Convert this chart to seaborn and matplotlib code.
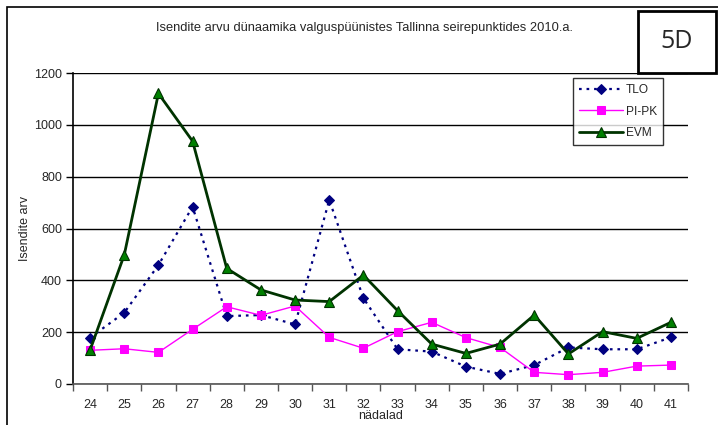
import matplotlib
matplotlib.use("Agg")
import matplotlib.pyplot as plt
import seaborn as sns
import pandas as pd
from matplotlib.patches import Rectangle

weeks = list(range(24, 42))
tlo = [179, 275, 459, 684, 262, 266, 230, 710, 331, 134, 125, 67, 39, 73, 141, 134, 134, 180]
pipk = [130, 136, 122, 211, 298, 265, 301, 180, 138, 202, 238, 179, 141, 45, 36, 45, 69, 73]
evm = [131, 498, 1121, 937, 446, 363, 324, 318, 420, 283, 154, 118, 154, 266, 116, 202, 176, 238]
yticks = [0, 200, 400, 600, 800, 1000, 1200]

title = "Isendite arvu dünaamika valguspüünistes Tallinna seirepunktides 2010.a."
ylabel = "Isendite arv"
xlabel = "nädalad"

sns.set_theme(style="white")
plt.rcParams["font.family"] = ["Liberation Sans", "DejaVu Sans"]

W, H = 718, 425
fig = plt.figure(figsize=(W / 100, H / 100), dpi=100)
fig.patch.set_facecolor("white")
ax = fig.add_axes([73 / W, 1 - 384 / H, (688 - 73) / W, (384 - 73) / H])
ax.set_facecolor("white")

df = pd.DataFrame({"week": weeks, "TLO": tlo, "PI-PK": pipk, "EVM": evm})

sns.lineplot(data=df, x="week", y="TLO", ax=ax, color="#000080", linestyle=(0, (1.2, 2.2)),
             linewidth=1.6, marker="D", markersize=5, markerfacecolor="#000080",
             markeredgecolor="#000080", label="TLO")
sns.lineplot(data=df, x="week", y="PI-PK", ax=ax, color="#FF00FF", linestyle="-",
             linewidth=1.0, marker="s", markersize=6, markerfacecolor="#FF00FF",
             markeredgecolor="#FF00FF", label="PI-PK")
sns.lineplot(data=df, x="week", y="EVM", ax=ax, color="#003300", linestyle="-",
             linewidth=2.0, marker="^", markersize=7, markerfacecolor="#008000",
             markeredgecolor="#003300", markeredgewidth=0.8, label="EVM")

ax.set_ylim(0, 1200)
ax.set_xlim(23.5, 41.5)
ax.set_yticks(yticks)
ax.set_yticklabels([str(v) for v in yticks], fontsize=9)
ax.yaxis.grid(True, color="black", linewidth=1.0)
ax.xaxis.grid(False)

ax.set_xticks([w - 0.5 for w in weeks] + [weeks[-1] + 0.5])
ax.set_xticklabels([])
ax.set_xticks(weeks, minor=True)
ax.set_xticklabels([str(w) for w in weeks], minor=True, fontsize=9)
ax.tick_params(axis="x", which="major", direction="out", length=5, width=1, color="#555555", bottom=True)
ax.tick_params(axis="x", which="minor", length=0, pad=11)
ax.tick_params(axis="y", direction="out", length=5, width=1, color="black", left=True, pad=3)

for s in ["top", "right"]:
    ax.spines[s].set_visible(False)
ax.spines["left"].set_color("black")
ax.spines["left"].set_linewidth(1.2)
ax.spines["bottom"].set_color("#555555")
ax.spines["bottom"].set_linewidth(1.2)

ax.set_xlabel(xlabel, fontsize=9, labelpad=-1)
ax.set_ylabel(ylabel, fontsize=9, labelpad=2)

leg = ax.legend(loc="upper left", bbox_to_anchor=((573 - 73) / (688 - 73), 1 - (78 - 73) / (384 - 73)),
                frameon=True, fancybox=False, fontsize=8.6, handlelength=3.7,
                borderpad=0.5, labelspacing=0.8, handletextpad=0.2, borderaxespad=0)
leg.get_frame().set_edgecolor("black")
leg.get_frame().set_linewidth(1.0)

fig.text(365 / W, 1 - 28 / H, title, ha="center", va="center", fontsize=9.3)

# outer frame (left and top edges visible, right and bottom cut off)
fig.add_artist(Rectangle((7 / W, -0.05), 1.0, 1 - 7 / H + 0.05, transform=fig.transFigure,
                         fill=False, edgecolor="black", linewidth=1.2))
# 5D box
fig.add_artist(Rectangle((638 / W, 1 - 73 / H), (716 - 638) / W, (73 - 11) / H, transform=fig.transFigure,
                         fill=True, facecolor="white", edgecolor="black", linewidth=2))
fig.text(677 / W, 1 - 42 / H, "5D", ha="center", va="center", fontsize=18, family=["Open Sans", "DejaVu Sans"])

fig.savefig("out.png", dpi=100)
